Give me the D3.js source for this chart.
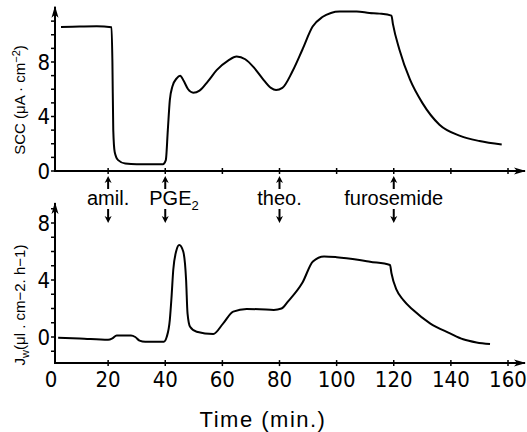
<!DOCTYPE html>
<html>
<head>
<meta charset="utf-8">
<script src="https://cdn.jsdelivr.net/npm/d3@7"></script>
<style>
  body { margin: 0; background: #fff; }
  svg { display: block; }
  text { fill: #000; }
</style>
</head>
<body>
<svg id="chart" width="527" height="432"></svg>
<script>
// Time axis
const timeTicks = [0, 20, 40, 60, 80, 100, 120, 140, 160];

// Upper panel: short-circuit current (SCC)
const sccTicks = [0, 4, 8];
const sccMinor = [0, 1, 2, 3, 4, 5, 6, 7, 8, 9, 10, 11];
const sccTime = [3.5, 10, 16, 21.2, 21.5, 21.8, 22.3, 23.5, 26, 30, 35, 39.2, 40.2, 40.9, 41.6, 42.5, 44, 45.2, 46.5, 48, 49.8,
  52, 55, 58, 62, 65, 68, 71, 74, 77, 78.8, 81, 84.5, 88, 91.6, 95, 98, 101, 107, 111.5, 115, 119.2, 119.7, 122, 125.7,
  130, 136, 143, 150, 157.8];
const sccValue = [10.57, 10.6, 10.62, 10.55, 8, 3, 1.4, 0.8, 0.55, 0.5, 0.5, 0.5, 0.8, 3, 5.2, 6.2, 6.8, 7.0, 6.6, 6.0, 5.75,
  5.9, 6.6, 7.4, 8.1, 8.4, 8.2, 7.6, 6.8, 6.1, 5.95, 6.1, 7.3, 8.9, 10.6, 11.3, 11.6, 11.7, 11.7, 11.6, 11.55, 11.4, 10.8, 8.9, 6.7,
  5.0, 3.4, 2.6, 2.2, 1.95];

// Lower panel: water flux (Jw)
const jwTicks = [0, 4, 8];
const jwMinor = [-1, 0, 1, 2, 3, 4, 5, 6, 7, 8, 9];
const jwTime = [2.5, 10, 20, 21.5, 23, 28, 29.5, 31, 33, 39.5, 40.5, 41.6, 42.2, 42.8, 43.8, 44.9, 46.3, 47.3, 47.8, 48.7, 51,
  56.8, 60.3, 63.8, 68.5, 73, 78, 80.7, 83, 88, 91.7, 95.6, 100, 108, 111.7, 118.7, 119.2, 121, 123.3, 126.8, 132.7,
  139.7, 144.3, 149, 153.7];
const jwValue = [-0.05, -0.1, -0.2, -0.1, 0.1, 0.1, 0, -0.25, -0.33, -0.33, 0, 1.2, 2.8, 4.7, 6.0, 6.46, 6.0, 4.0, 1.66, 0.72, 0.37,
  0.21, 0.96, 1.78, 1.96, 1.95, 1.9, 2.0, 2.5, 3.8, 5.3, 5.65, 5.6, 5.4, 5.28, 5.05, 4.47, 3.3, 2.6, 1.89, 0.96,
  0.26, -0.16, -0.38, -0.49];

// Additions
const drugNames = ['amil.', 'PGE', 'theo.', 'furosemide'];
const drugSub = ['', '2', '', ''];
const drugTime = [20, 40, 80, 120];

const svg = d3.select('#chart');
const numFont = '"Liberation Sans Narrow", "DejaVu Sans Condensed", sans-serif';
const txtFont = '"Liberation Sans", Arial, sans-serif';

// Scales
const x = d3.scaleLinear().domain([0, 160]).range([51, 508]);
const ySCC = d3.scaleLinear().domain([0, 8]).range([171, 62]);
const yJw = d3.scaleLinear().domain([0, 8]).range([337, 223]);

const axisX = 55;      // vertical axes position
const axisRight = 525; // end of time axes

// Arrow marker
const defs = svg.append('defs');
defs.append('marker')
    .attr('id', 'arrow')
    .attr('viewBox', '0 -5 12 10')
    .attr('refX', 11).attr('refY', 0)
    .attr('markerWidth', 12).attr('markerHeight', 10)
    .attr('markerUnits', 'userSpaceOnUse')
    .attr('orient', 'auto')
    .append('path')
    .attr('d', 'M0,-3.5 L12,0 L0,3.5 L3,0 Z')
    .attr('fill', '#000');

function drawPanel(y, yMin, yMax, ticks, minor, showTimeLabels) {
    const g = svg.append('g');
    const y0 = y(yMin);

    // vertical axis with arrow
    g.append('line')
        .attr('x1', axisX).attr('x2', axisX)
        .attr('y1', y0).attr('y2', y(yMax))
        .attr('stroke', '#000').attr('stroke-width', 2)
        .attr('marker-end', 'url(#arrow)');

    // horizontal axis with arrow
    g.append('line')
        .attr('x1', axisX - 1).attr('x2', axisRight)
        .attr('y1', y0).attr('y2', y0)
        .attr('stroke', '#000').attr('stroke-width', 2)
        .attr('marker-end', 'url(#arrow)');

    // minor ticks on y axis
    g.selectAll('.ytick')
        .data(minor)
        .enter()
        .append('line')
        .attr('x1', axisX - 4).attr('x2', axisX)
        .attr('y1', d => y(d)).attr('y2', d => y(d))
        .attr('stroke', '#000').attr('stroke-width', 1.5);

    // y labels
    g.selectAll('.ylab')
        .data(ticks)
        .enter()
        .append('text')
        .attr('x', axisX - 5)
        .attr('y', d => y(d))
        .attr('dy', '0.36em')
        .attr('text-anchor', 'end')
        .style('font-family', numFont)
        .style('font-size', '22px')
        .text(d => d);

    // time ticks
    g.selectAll('.xtick')
        .data(timeTicks.filter(d => d > 0))
        .enter()
        .append('line')
        .attr('x1', d => x(d)).attr('x2', d => x(d))
        .attr('y1', y0 - 3).attr('y2', y0 + 3)
        .attr('stroke', '#000').attr('stroke-width', 1.5);

    if (showTimeLabels) {
        g.selectAll('.xlab')
            .data(timeTicks)
            .enter()
            .append('text')
            .attr('x', d => x(d))
            .attr('y', y0 + 24)
            .attr('text-anchor', 'middle')
            .style('font-family', numFont)
            .style('font-size', '22px')
            .text(d => d);
    }
    return g;
}

drawPanel(ySCC, 0, 12.05, sccTicks, sccMinor, false);
drawPanel(yJw, -1.83, 9.4, jwTicks, jwMinor, true);

// Curves
const sccData = sccTime.map((t, i) => ({t: t, v: sccValue[i]}));
const jwData = jwTime.map((t, i) => ({t: t, v: jwValue[i]}));

svg.append('path')
    .datum(sccData)
    .attr('fill', 'none')
    .attr('stroke', '#000')
    .attr('stroke-width', 2)
    .attr('d', d3.line().x(d => x(d.t)).y(d => ySCC(d.v)).curve(d3.curveMonotoneX));

svg.append('path')
    .datum(jwData)
    .attr('fill', 'none')
    .attr('stroke', '#000')
    .attr('stroke-width', 2)
    .attr('d', d3.line().x(d => x(d.t)).y(d => yJw(d.v)).curve(d3.curveMonotoneX));

// Drug additions: labels with up/down arrows
const drugs = drugNames.map((n, i) => ({name: n, sub: drugSub[i], t: drugTime[i]}));

function smallArrow(g, xPos, yFrom, yTo) {
    const dir = yTo < yFrom ? -1 : 1;
    g.append('line')
        .attr('x1', xPos).attr('x2', xPos)
        .attr('y1', yFrom).attr('y2', yTo - dir * 3)
        .attr('stroke', '#000').attr('stroke-width', 2);
    g.append('path')
        .attr('d', `M${xPos},${yTo} L${xPos - 3.5},${yTo - dir * 7} L${xPos},${yTo - dir * 5} L${xPos + 3.5},${yTo - dir * 7} Z`)
        .attr('fill', '#000');
}

const ann = svg.append('g');
drugs.forEach(d => {
    const xp = x(d.t);
    smallArrow(ann, xp, 189, 176);
    smallArrow(ann, xp, 209, 223);
    const label = ann.append('text')
        .attr('x', d.sub ? xp - 16 : xp)
        .attr('y', 205)
        .attr('text-anchor', d.sub ? 'start' : 'middle')
        .style('font-family', txtFont)
        .style('font-size', '20px')
        .text(d.name);
    if (d.sub) {
        label.append('tspan')
            .attr('dy', 5)
            .style('font-size', '13px')
            .text(d.sub);
    }
});

// Axis titles
const sccTitle = svg.append('text')
    .attr('transform', 'translate(25,100) rotate(-90)')
    .attr('text-anchor', 'middle')
    .style('font-family', txtFont)
    .style('font-size', '15px')
    .text('SCC (μA · cm');
sccTitle.append('tspan').attr('dy', -5).style('font-size', '11px').text('−2');
sccTitle.append('tspan').attr('dy', 5).text(')');

const jwTitle = svg.append('text')
    .attr('transform', 'translate(25,305) rotate(-90)')
    .attr('text-anchor', 'middle')
    .style('font-family', txtFont)
    .style('font-size', '15px')
    .text('J');
jwTitle.append('tspan').attr('dy', 4).style('font-size', '11px').text('w');
jwTitle.append('tspan').attr('dy', -4).text('(μl . cm−2. h−1)');

svg.append('text')
    .attr('x', 263)
    .attr('y', 427)
    .attr('text-anchor', 'middle')
    .style('font-family', txtFont)
    .style('font-size', '22px')
    .style('letter-spacing', '1.5px')
    .text('Time (min.)');
</script>
</body>
</html>
